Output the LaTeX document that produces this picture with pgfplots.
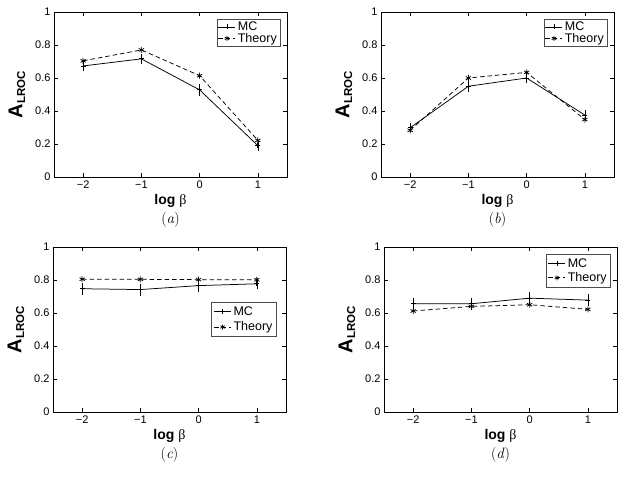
\documentclass[border=0pt]{standalone}
\usepackage{pgfplots}
\pgfplotsset{compat=1.18}
\usepackage{fontspec}
\setmainfont{Liberation Sans}
\newfontfamily\serifgreek{Liberation Serif}
\newfontfamily\lmr{Latin Modern Roman}
\tikzset{panelcaption/.style={font=\lmr\fontsize{15}{17}\selectfont, yshift=-43pt}}
\begin{document}
\begin{tikzpicture}
\useasboundingbox (0pt,0pt) rectangle (626pt,478pt);
\pgfplotsset{
  panel/.style={
    scale only axis, width=233pt, height=165pt,
    clip mode=individual,
    xmin=-2.5, xmax=1.5, ymin=0, ymax=1,
    xtick={-2,-1,0,1}, xticklabels={−2,−1,0,1},
    ytick={0,0.2,0.4,0.6,0.8,1}, yticklabels={0,0.2,0.4,0.6,0.8,1},
    tick align=inside, major tick length=4pt,
    tick style={black, line width=0.6pt},
    axis line style={line width=0.9pt},
    ticklabel style={font=\fontsize{11}{13}\selectfont},
    xlabel={\textbf{log} {\serifgreek β}},
    xlabel style={font=\fontsize{14}{16}\selectfont, yshift=1pt},
    ylabel={\bfseries{\fontsize{20}{22}\selectfont A}\raisebox{-0.55ex}{\fontsize{11.5}{12}\selectfont LROC}},
    ylabel style={yshift=3pt},
    legend style={font=\fontsize{12.5}{14}\selectfont, draw=black!70, line width=0.5pt, inner sep=1pt, row sep=-3pt},
    legend cell align=left,
    legend image post style={mark size=2.5pt},
  },
  mc/.style={black, line width=0.75pt, mark=+, mark size=2.5pt,
    error bars/.cd, y dir=both, y explicit,
    error bar style={line width=0.7pt, solid},
    error mark options={mark size=2pt, line width=0.7pt}},
  th/.style={black, dash pattern=on 4.5pt off 3pt, line width=0.75pt, mark=asterisk, mark size=3pt, mark options={solid}},
}
% (a)
\begin{axis}[panel, at={(54pt,301pt)}, anchor=south west,
  legend style={at={(0.97,0.96)}, anchor=north east}]
\addplot[mc] table[x=x, y=y, y error=e] {
x y e
-2 0.673 0.021
-1 0.716 0.02
0 0.528 0.022
1 0.19 0.022
};
\addlegendentry{MC}
\addplot[th] table[x=x, y=y] {
x y
-2 0.704
-1 0.77
0 0.614
1 0.222
};
\addlegendentry{Theory}
\node[panelcaption] at (rel axis cs:0.5,0) {(\textit{a})};
\end{axis}
% (b)
\begin{axis}[panel, at={(381pt,301pt)}, anchor=south west,
  legend style={at={(0.97,0.96)}, anchor=north east}]
\addplot[mc] table[x=x, y=y, y error=e] {
x y e
-2 0.298 0.016
-1 0.55 0.02
0 0.6 0.02
1 0.375 0.016
};
\addlegendentry{MC}
\addplot[th] table[x=x, y=y] {
x y
-2 0.283
-1 0.60
0 0.634
1 0.348
};
\addlegendentry{Theory}
\node[panelcaption] at (rel axis cs:0.5,0) {(\textit{b})};
\end{axis}
% (c)
\begin{axis}[panel, at={(53pt,66pt)}, anchor=south west,
  legend style={at={(0.96,0.665)}, anchor=north east, row sep=1pt, inner sep=2pt}]
\addplot[mc] table[x=x, y=y, y error=e] {
x y e
-2 0.747 0.023
-1 0.742 0.024
0 0.766 0.024
1 0.777 0.022
};
\addlegendentry{MC}
\addplot[th] table[x=x, y=y] {
x y
-2 0.805
-1 0.804
0 0.802
1 0.801
};
\addlegendentry{Theory}
\node[panelcaption] at (rel axis cs:0.5,0) {(\textit{c})};
\end{axis}
% (d)
\begin{axis}[panel, at={(384pt,66pt)}, anchor=south west,
  legend style={at={(0.974,0.957)}, anchor=north east, row sep=0pt, inner sep=2pt}]
\addplot[mc] table[x=x, y=y, y error=e] {
x y e
-2 0.656 0.025
-1 0.656 0.024
0 0.69 0.025
1 0.678 0.022
};
\addlegendentry{MC}
\addplot[th] table[x=x, y=y] {
x y
-2 0.612
-1 0.64
0 0.65
1 0.622
};
\addlegendentry{Theory}
\node[panelcaption] at (rel axis cs:0.5,0) {(\textit{d})};
\end{axis}
\end{tikzpicture}
\end{document}
